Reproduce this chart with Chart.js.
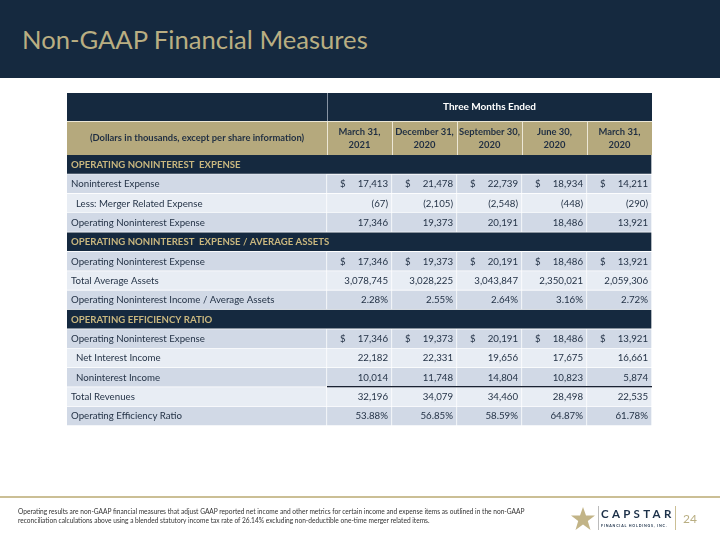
<!DOCTYPE html>
<html>
<head>
<meta charset="utf-8">
<script src="https://cdn.jsdelivr.net/npm/chart.js@4.4.1/dist/chart.umd.min.js"></script>
<style>
  html, body { margin: 0; padding: 0; background: #fff; }
  #page { position: relative; width: 720px; height: 540px; overflow: hidden; font-family: Lato, "Open Sans", sans-serif; }
  #band { position: absolute; left: 0; top: 0; width: 720px; height: 78px; background: #15293f; }
  #title { position: absolute; left: 22px; top: 24px; margin: 0; font-size: 25.6px; font-weight: normal; color: #b9ae82; }
  #wrap { position: absolute; left: 0; top: 0; width: 720px; height: 540px; }
  #rule { position: absolute; left: 0; top: 496px; width: 720px; height: 2px; background: #cbbf95; }
  #note { position: absolute; left: 18px; top: 507px; white-space: nowrap; font-size: 6.6px; line-height: 9px; color: #333; font-family: "Liberation Sans Narrow", Lato, sans-serif; }
  #logo { position: absolute; left: 570px; top: 503px; width: 140px; height: 30px; }
  #capstar { position: absolute; left: 31px; top: 4px; font-size: 11.5px; letter-spacing: 3.3px; color: #1d3149; font-weight: bold; font-family: Lato, sans-serif; }
  #fhi { position: absolute; left: 31px; top: 20px; font-size: 3.6px; letter-spacing: 0.8px; color: #1d3149; font-weight: bold; }
  #bar1 { position: absolute; left: 28px; top: 3px; width: 1px; height: 24px; background: #bbb; }
  #bar2 { position: absolute; left: 105px; top: 3px; width: 1px; height: 24px; background: #cbbf95; }
  #pg { position: absolute; left: 113px; top: 8px; font-size: 12px; color: #b9ae82; }
</style>
</head>
<body>
<div id="page">
  <div id="band"></div>
  <h1 id="title">Non-GAAP Financial Measures</h1>
  <div id="wrap"><canvas id="myChart"></canvas></div>
  <div id="rule"></div>
  <div id="note">Operating results are non-GAAP financial measures that adjust GAAP reported net income and other metrics for certain income and expense items as outlined in the non-GAAP<br>reconciliation calculations above using a blended statutory income tax rate of 26.14% excluding non-deductible one-time merger related items.</div>
  <div id="logo">
    <svg width="26" height="26" viewBox="0 0 26 26" style="position:absolute;left:0;top:3px">
      <polygon points="13,1 16,9.5 25,9.5 17.8,15 20.5,24 13,18.5 5.5,24 8.2,15 1,9.5 10,9.5" fill="#c2b487"/>
    </svg>
    <div id="bar1"></div>
    <div id="capstar">CAPSTAR</div>
    <div id="fhi">FINANCIAL HOLDINGS, INC.</div>
    <div id="bar2"></div>
    <div id="pg">24</div>
  </div>
</div>

<script>
// column headers
const periodMonths = ['March 31,', 'December 31,', 'September 30,', 'June 30,', 'March 31,'];
const periodYears = ['2021', '2020', '2020', '2020', '2020'];

// values (dollars in thousands)
const nonintExpense = [17413, 21478, 22739, 18934, 14211];
const mergerExpense = [-67, -2105, -2548, -448, -290];
const opNonintExpense = [17346, 19373, 20191, 18486, 13921];
const avgAssets = [3078745, 3028225, 3043847, 2350021, 2059306];
const opExpenseToAssets = [2.28, 2.55, 2.64, 3.16, 2.72];
const netInterestIncome = [22182, 22331, 19656, 17675, 16661];
const nonintIncome = [10014, 11748, 14804, 10823, 5874];
const totalRevenues = [32196, 34079, 34460, 28498, 22535];
const efficiencyRatio = [53.88, 56.85, 58.59, 64.87, 61.78];

const rows = [
  {label: 'OPERATING NONINTEREST  EXPENSE', section: true},
  {label: 'Noninterest Expense', values: nonintExpense, dollar: true},
  {label: 'Less: Merger Related Expense', values: mergerExpense, indent: true},
  {label: 'Operating Noninterest Expense', values: opNonintExpense},
  {label: 'OPERATING NONINTEREST  EXPENSE / AVERAGE ASSETS', section: true},
  {label: 'Operating Noninterest Expense', values: opNonintExpense, dollar: true},
  {label: 'Total Average Assets', values: avgAssets},
  {label: 'Operating Noninterest Income / Average Assets', values: opExpenseToAssets, pct: true},
  {label: 'OPERATING EFFICIENCY RATIO', section: true},
  {label: 'Operating Noninterest Expense', values: opNonintExpense, dollar: true},
  {label: 'Net Interest Income', values: netInterestIncome, indent: true},
  {label: 'Noninterest Income', values: nonintIncome, indent: true},
  {label: 'Total Revenues', values: totalRevenues, ruleAbove: true},
  {label: 'Operating Efficiency Ratio', values: efficiencyRatio, pct: true}
];

const NAVY = '#15293f';
const GOLD = '#b5a97d';
const DARK = '#d1d9e6';
const LIGHT = '#e8edf4';
const INK = '#1f2e42';
const LABEL_SPAN = 4; // label column is 4 data-columns wide

// shade alternates inside each section, starting dark
let k = 0;
const shades = rows.map(r => {
  if (r.section) { k = 0; return NAVY; }
  return (k++ % 2 === 0) ? DARK : LIGHT;
});

function fmt(v, r) {
  if (r.pct) return v.toFixed(2) + '%';
  const s = Math.abs(v).toLocaleString('en-US');
  return v < 0 ? '(' + s + ')' : s;
}

const cellStyle = {
  borderColor: '#ffffff',
  borderWidth: {top: 0, left: 0, right: 1, bottom: 1},
  borderSkipped: false,
  categoryPercentage: 1,
  barPercentage: 1,
  grouped: false
};

const datasets = [{
  label: 'labels',
  data: rows.map(r => [0, r.section ? LABEL_SPAN + periodYears.length : LABEL_SPAN]),
  backgroundColor: shades,
  ...cellStyle
}];
periodYears.forEach((y, j) => {
  datasets.push({
    label: periodMonths[j] + ' ' + y,
    data: rows.map(r => r.section ? null : [LABEL_SPAN + j, LABEL_SPAN + j + 1]),
    backgroundColor: shades,
    ...cellStyle
  });
});

// draws the two header rows and all cell texts
const tableText = {
  id: 'tableText',
  afterDatasetsDraw(chart) {
    const ctx = chart.ctx;
    const xs = chart.scales.x, ys = chart.scales.y;
    const top = chart.chartArea.top;
    const h1Top = top - 62, h2Top = top - 34;
    const xL = xs.getPixelForValue(0), xD = xs.getPixelForValue(LABEL_SPAN);
    const xR = xs.getPixelForValue(LABEL_SPAN + periodYears.length);
    ctx.save();

    // header 1
    ctx.fillStyle = NAVY;
    ctx.fillRect(xL, h1Top, xR - xL, 28);
    ctx.fillStyle = '#8793a3';
    ctx.fillRect(xD, h1Top, 1, 28);
    ctx.fillStyle = '#ffffff';
    ctx.font = 'bold 10px Lato';
    ctx.textAlign = 'center';
    ctx.textBaseline = 'middle';
    ctx.fillText('Three Months Ended', (xD + xR) / 2, h1Top + 14);

    // header 2
    ctx.fillStyle = GOLD;
    ctx.fillRect(xL, h2Top, xR - xL, 34);
    ctx.fillStyle = '#ece7d6';
    ctx.fillRect(xL, h2Top, xR - xL, 1);
    for (let j = 0; j <= periodYears.length - 1; j++) {
      ctx.fillRect(xs.getPixelForValue(LABEL_SPAN + j), h2Top, 1, 34);
    }
    ctx.fillStyle = INK;
    ctx.font = 'bold 9.4px Lato';
    ctx.fillText('(Dollars in thousands, except per share information)', (xL + xD) / 2, h2Top + 17);
    periodYears.forEach((y, j) => {
      const cx = xs.getPixelForValue(LABEL_SPAN + j + 0.5);
      ctx.fillText(periodMonths[j], cx, h2Top + 11);
      ctx.fillText(y, cx, h2Top + 24);
    });

    // body
    rows.forEach((r, i) => {
      const cy = ys.getPixelForValue(i);
      ctx.textAlign = 'left';
      if (r.section) {
        ctx.fillStyle = '#c9b77f';
        ctx.font = 'bold 9.6px Lato';
        ctx.fillText(r.label, xL + 4, cy);
        return;
      }
      ctx.fillStyle = INK;
      ctx.font = '9.7px Lato';
      ctx.fillText(r.label, xL + (r.indent ? 9 : 4), cy);
      r.values.forEach((v, j) => {
        const x0 = xs.getPixelForValue(LABEL_SPAN + j);
        const x1 = xs.getPixelForValue(LABEL_SPAN + j + 1);
        ctx.textAlign = 'left';
        if (r.dollar) ctx.fillText('$', x0 + 13, cy);
        ctx.textAlign = 'right';
        ctx.fillText(fmt(v, r), x1 - 4, cy);
      });
      if (r.ruleAbove) {
        const half = (ys.getPixelForValue(1) - ys.getPixelForValue(0)) / 2;
        ctx.fillStyle = '#1a2232';
        ctx.fillRect(xD, Math.round(cy - half) - 1, xR - xD, 1.3);
      }
    });
    ctx.restore();
  }
};

const myChart = new Chart(document.getElementById('myChart'), {
  type: 'bar',
  data: {labels: rows.map(r => r.label), datasets: datasets},
  options: {
    indexAxis: 'y',
    responsive: true,
    maintainAspectRatio: false,
    animation: false,
    layout: {padding: {left: 67, right: 68, top: 155, bottom: 114}},
    scales: {
      x: {type: 'linear', min: 0, max: LABEL_SPAN + periodYears.length, display: false},
      y: {type: 'category', display: false}
    },
    plugins: {legend: {display: false}, tooltip: {enabled: false}}
  },
  plugins: [tableText]
});
</script>
</body>
</html>
